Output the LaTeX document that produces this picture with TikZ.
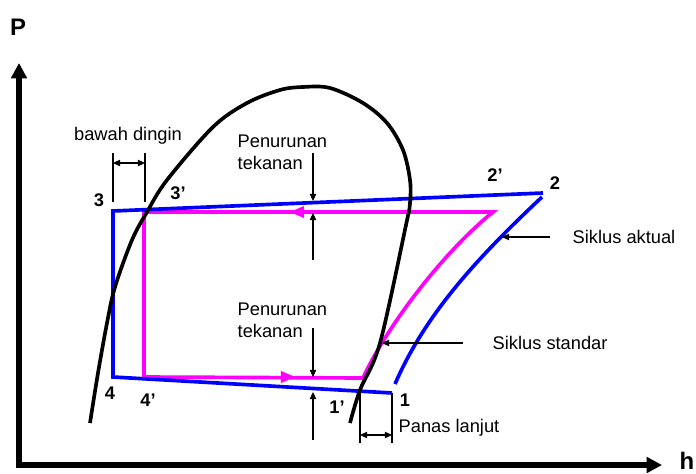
\documentclass[tikz,border=0pt]{standalone}
\usepackage{fontspec}
\setmainfont{Liberation Sans}
\usetikzlibrary{arrows.meta}
\definecolor{stdpink}{RGB}{255,0,255}
\definecolor{actblue}{RGB}{0,0,255}

\begin{document}
\begin{tikzpicture}[x=0.025cm, y=-0.025cm, every node/.style={font=\fontsize{13}{15.5}\selectfont, inner sep=1pt},
	num/.style={font=\fontsize{13}{15.5}\selectfont\bfseries},
	axis/.style={line width=4pt, -{Triangle[length=11pt,width=11pt]}},
	cyc/.style={line width=2.6pt},
	thin/.style={line width=0.85pt},
	lbl/.style={thin, -{Triangle[length=5pt,width=4.5pt]}},
	dim/.style={thin, {Triangle[length=5pt,width=4.5pt]}-{Triangle[length=5pt,width=4.5pt]}},
	flow/.style={stdpink, line width=0.1pt, -{Triangle[length=10pt,width=8.5pt]}}]
	\useasboundingbox (0,0) rectangle (696,473);
	% axes
	\draw[axis] (19,468) -- (19,63);
	\draw[axis] (16,465) -- (662,465);
	\node[num, font=\fontsize{17}{20}\selectfont\bfseries] (P) at (18,27) {P};
	\node[num, font=\fontsize{17}{20}\selectfont\bfseries] (h) at (687,461) {h};
	% cycle points
	\coordinate (c3) at (113,211); \coordinate (c2) at (543,193);
	\coordinate (c4) at (113,377); \coordinate (c1) at (392,393);
	\coordinate (c1b) at (395,384); \coordinate (c2b) at (542,197);
	\coordinate (m3) at (144,212); \coordinate (m2) at (493,212);
	\coordinate (m4) at (144,377); \coordinate (m1) at (363,378);
	% standard cycle
	\draw[cyc, stdpink] (m1) .. controls (385,330) and (440,255) .. (m2) -- (m3) -- (m4) -- cycle;
	\draw[flow] (310,212) -- (290,212);
	\draw[flow] (275,377) -- (295,377);
	% actual cycle
	\draw[cyc, actblue] (c2) -- (c3) -- (c4) -- (c1);
	\draw[cyc, actblue] (c1b) .. controls (425,315) and (475,260) .. (c2b);
	% saturation dome
	\draw[cyc] plot[smooth, tension=0.55] coordinates {(90,423) (98,373) (107,323) (115,287) (132,240) (147,212) (167,180) (213,127) (247,103) (280,90) (303,87) (330,88) (363,103) (387,123) (403,150) (410,180) (410,203) (406,225) (380,343) (360,390) (350,423)};
	% point labels
	\node[num] (n3) at (99,200) {3};
	\node[num] (n3s) at (178,193) {3’};
	\node[num] (n2s) at (495,175) {2’};
	\node[num] (n2) at (555,183) {2};
	\node[num] (n4) at (110,393) {4};
	\node[num] (n4s) at (148,400) {4’};
	\node[num] (n1s) at (337,407) {1’};
	\node[num] (n1) at (405,400) {1};
	% subcooling
	\node (sub) at (128,136) {bawah dingin};
	\draw[thin] (113,153) -- (113,202);
	\draw[thin] (145,153) -- (145,202);
	\coordinate (subL) at (113,163); \coordinate (subR) at (145,163);
	\draw[dim] (subL) -- (subR);
	% pressure drops
	\node[anchor=west, align=left] (dpHi) at (236,152) {Penurunan\\tekanan};
	\coordinate (hiA) at (313,153); \coordinate (hiB) at (313,201);
	\coordinate (hiC) at (313,260); \coordinate (hiD) at (313,213);
	\draw[lbl] (hiA) -- (hiB);
	\draw[lbl] (hiC) -- (hiD);
	\node[anchor=west, align=left] (dpLo) at (236,320) {Penurunan\\tekanan};
	\coordinate (loA) at (313,328); \coordinate (loB) at (313,377);
	\coordinate (loC) at (313,440); \coordinate (loD) at (313,392);
	\draw[lbl] (loA) -- (loB);
	\draw[lbl] (loC) -- (loD);
	% cycle names
	\node[anchor=west] (akt) at (571,237) {Siklus aktual};
	\coordinate (aktT) at (550,237); \coordinate (aktH) at (502,237);
	\draw[lbl] (aktT) -- (aktH);
	\node[anchor=west] (std) at (491,343) {Siklus standar};
	\coordinate (stdT) at (463,343); \coordinate (stdH) at (382,343);
	\draw[lbl] (stdT) -- (stdH);
	% superheat
	\node[anchor=west] (sup) at (397,428) {Panas lanjut};
	\draw[thin] (360,393) -- (360,443);
	\draw[thin] (392,393) -- (392,443);
	\coordinate (supL) at (360,435); \coordinate (supR) at (392,435);
	\draw[dim] (supL) -- (supR);
\end{tikzpicture}
\end{document}
